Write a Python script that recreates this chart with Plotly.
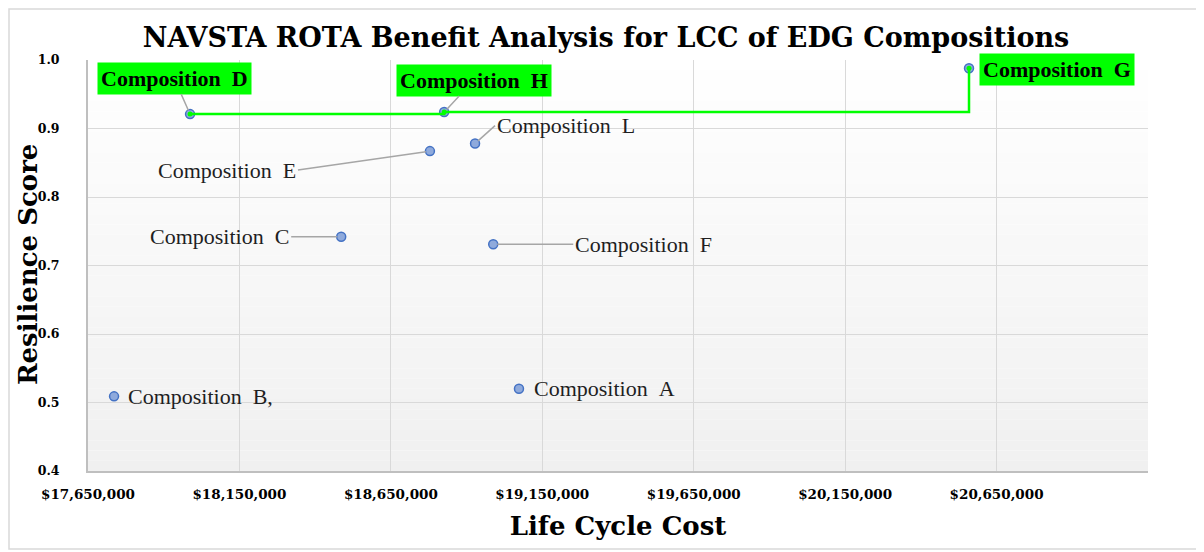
import plotly.graph_objects as go

# data
labels = ["Composition A", "Composition B,", "Composition C", "Composition D", "Composition E",
          "Composition F", "Composition G", "Composition H", "Composition L"]
lcc = [19073000, 17736000, 18486000, 17987000, 18779000, 18988000, 20559000, 18826000, 18928000]
score = [0.520, 0.509, 0.742, 0.921, 0.867, 0.731, 0.988, 0.924, 0.878]
frontier = ["Composition D", "Composition H", "Composition G"]

x_ticks = [17650000, 18150000, 18650000, 19150000, 19650000, 20150000, 20650000]
x_tick_text = ["$17,650,000", "$18,150,000", "$18,650,000", "$19,150,000",
               "$19,650,000", "$20,150,000", "$20,650,000"]

# label placement (pixel offsets from point), style only
label_pos = {
    "Composition A": dict(arrow=False, xshift=13, yshift=0, xanchor="left"),
    "Composition B,": dict(arrow=False, xshift=12, yshift=0, xanchor="left"),
    "Composition C": dict(arrow=True, ax=-50, ay=0, xanchor="right"),
    "Composition D": dict(arrow=True, ax=-16, ay=-36, xanchor="center", box=True),
    "Composition E": dict(arrow=True, ax=-132, ay=19, xanchor="right"),
    "Composition F": dict(arrow=True, ax=80, ay=0, xanchor="left"),
    "Composition G": dict(arrow=False, xshift=10, yshift=-1, xanchor="left", box=True),
    "Composition H": dict(arrow=True, ax=30, ay=-32, xanchor="center", box=True),
    "Composition L": dict(arrow=True, ax=20, ay=-18, xanchor="left"),
}

fig = go.Figure()

# soft vertical gradient in plot area
n = 40
for i in range(n):
    t = (i + 0.5) / n
    c = int(round(240 + (255 - 240) * t))
    fig.add_shape(type="rect", xref="x domain", yref="y domain", x0=0, x1=1,
                  y0=i / n, y1=(i + 1) / n, fillcolor=f"rgb({c},{c},{c})",
                  line_width=0, layer="below")

# outer chart border (plot area is 1060 x 411 px, starting at 80,52)
fig.add_shape(type="rect", xref="paper", yref="paper",
              x0=(1 - 80) / 1060, x1=(1191 - 80) / 1060,
              y0=(463 - 541) / 411, y1=(463 - 1) / 411,
              line=dict(color="#d9d9d9", width=1.5), fillcolor="rgba(0,0,0,0)", layer="below")

fig.add_trace(go.Scatter(
    x=lcc, y=score, mode="markers",
    marker=dict(size=9, color="#8faadc", line=dict(color="#4472c4", width=1.5)),
    showlegend=False, hoverinfo="skip"))

fx = [lcc[labels.index(f)] for f in frontier]
fy = [score[labels.index(f)] for f in frontier]
fig.add_trace(go.Scatter(
    x=fx, y=fy, mode="lines+markers", line=dict(color="#00ff00", width=2.5, shape="hv"),
    marker=dict(size=5, color="#00ff00"), showlegend=False, hoverinfo="skip"))

for name, x, y in zip(labels, lcc, score):
    p = label_pos[name]
    text = name.replace(" ", "\u00a0\u00a0")
    boxed = p.get("box", False)
    font = dict(family="Liberation Serif", size=22, color="#000000" if boxed else "#1f1f1f",
                weight="bold" if boxed else "normal")
    ann = dict(x=x, y=y, xref="x", yref="y", text=text, font=font, xanchor=p["xanchor"],
               yanchor="middle")
    if boxed:
        ann.update(bgcolor="#00ff00", borderpad=3)
    if p["arrow"]:
        ann.update(showarrow=True, ax=p["ax"], ay=p["ay"], arrowhead=0, arrowwidth=1.5,
                   arrowcolor="#a6a6a6", standoff=4)
    else:
        ann.update(showarrow=False, xshift=p["xshift"], yshift=p["yshift"])
    fig.add_annotation(**ann)

axis_title_font = dict(family="DejaVu Serif", size=26, color="#000000", weight="bold")

# y axis title placed as an annotation so it sits where the reference has it
fig.add_annotation(text="Resilience Score", xref="paper", yref="paper",
                   x=(20 - 80) / 1060, y=0.501, textangle=-90, showarrow=False,
                   xanchor="center", yanchor="middle", font=axis_title_font)

fig.update_layout(
    width=1204, height=552,
    margin=dict(l=80, r=64, t=52, b=89),
    paper_bgcolor="white", plot_bgcolor="white",
    title=dict(text="NAVSTA ROTA Benefit Analysis for LCC of EDG Compositions",
               font=dict(family="DejaVu Serif", size=27, color="#000000", weight="bold"),
               x=0.4967, xanchor="center", y=0.947, yanchor="middle"),
    xaxis=dict(range=[17650000, 21150000], tickvals=x_ticks, ticktext=x_tick_text,
               showgrid=True, gridcolor="#d9d9d9", gridwidth=1,
               showline=True, linecolor="#bfbfbf", linewidth=2, zeroline=False,
               ticks="", ticklabelstandoff=10, automargin=False,
               tickfont=dict(family="DejaVu Serif", size=13.5, color="#000000", weight="bold"),
               title=dict(text="Life Cycle Cost", standoff=16, font=axis_title_font)),
    yaxis=dict(range=[0.4, 1.0], dtick=0.1, tickformat=".1f",
               showgrid=True, gridcolor="#d9d9d9", gridwidth=1,
               showline=True, linecolor="#bfbfbf", linewidth=2, zeroline=False,
               ticks="", ticklabelstandoff=24, automargin=False,
               tickfont=dict(family="DejaVu Serif", size=12.5, color="#000000", weight="bold")),
)

fig.write_html("out.html")
